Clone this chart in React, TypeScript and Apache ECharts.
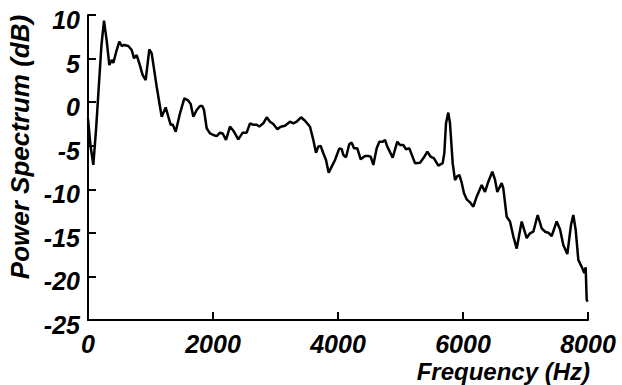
import React, { useEffect, useRef } from "react";
import * as echarts from "echarts";

const frequencies: number[] = [
  0, 40, 85, 130, 170, 215, 256, 300, 341, 379, 405, 459, 501, 539, 576, 645, 699, 736, 779, 821,
  875, 923, 981, 1019, 1099, 1179, 1243, 1285, 1323, 1355, 1403, 1472, 1541, 1595, 1643, 1685,
  1739, 1792, 1829, 1856, 1899, 1952, 2005, 2059, 2112, 2155, 2208, 2272, 2325, 2405, 2475, 2539,
  2592, 2645, 2699, 2741, 2805, 2859, 2912, 2965, 3029, 3083, 3152, 3232, 3285, 3339, 3408, 3472,
  3552, 3605, 3648, 3685, 3723, 3765, 3808, 3851, 3899, 3952, 4021, 4059, 4085, 4128, 4181, 4219,
  4256, 4309, 4363, 4432, 4485, 4523, 4565, 4619, 4661, 4715, 4752, 4789, 4875, 4949, 4992, 5045,
  5088, 5141, 5232, 5312, 5365, 5429, 5483, 5536, 5605, 5675, 5701, 5728, 5765, 5792, 5835, 5872,
  5909, 5941, 5979, 6016, 6059, 6112, 6165, 6219, 6299, 6352, 6405, 6469, 6512, 6549, 6619, 6645,
  6699, 6752, 6805, 6859, 6939, 7019, 7072, 7125, 7195, 7259, 7312, 7365, 7419, 7499, 7552, 7605,
  7669, 7728, 7765, 7803, 7845, 7899, 7941, 7963, 7979, 7995,
];

const powerDb: number[] = [
  -1.9, -5.0, -7.2, -3.0, 1.5, 6.5, 9.35, 7.0, 4.26, 4.84, 4.5, 5.98, 6.94, 6.44, 6.56, 6.44, 5.98,
  5.03, 5.4, 4.45, 3.1, 2.54, 6.06, 5.6, 1.77, -1.67, -0.6, -1.67, -2.6, -2.55, -3.4, -1.28, 0.44,
  0.24, -0.21, -1.67, -0.9, -0.44, -0.44, -0.9, -3.0, -3.58, -3.77, -3.9, -3.5, -3.6, -4.34, -2.8,
  -3.28, -4.27, -3.5, -3.5, -2.43, -2.6, -2.6, -2.8, -2.43, -1.74, -2.24, -2.51, -3.12, -2.82, -2.7,
  -2.24, -2.43, -2.24, -1.74, -2.13, -2.82, -4.34, -5.8, -5.1, -5.03, -5.87, -6.64, -8.1, -7.4,
  -6.64, -5.3, -5.4, -6.07, -6.33, -4.8, -4.65, -5.3, -5.3, -6.56, -6.18, -6.18, -6.26, -7.2, -5.3,
  -4.54, -4.54, -4.34, -5.1, -6.37, -4.54, -4.92, -4.92, -5.4, -5.3, -7.0, -6.95, -6.45, -5.69,
  -6.26, -6.45, -7.29, -7.0, -5.87, -2.43, -1.2, -2.43, -7.0, -8.94, -8.48, -8.36, -9.24, -10.46,
  -11.15, -11.5, -12.0, -10.85, -9.5, -10.3, -9.13, -7.98, -8.9, -10.3, -9.3, -9.9, -13.15, -13.7,
  -15.4, -16.8, -13.7, -15.6, -15.05, -14.87, -12.95, -14.48, -14.87, -14.98, -15.36, -13.7, -14.59,
  -16.4, -17.43, -14.1, -12.95, -14.67, -18.1, -18.9, -19.6, -18.96, -22.7, -22.9,
];

const xTicks: number[] = [0, 2000, 4000, 6000, 8000];
const yTicks: number[] = [-25, -20, -15, -10, -5, 0, 5, 10];
const xTitle = "Frequency (Hz)";
const yTitle = "Power Spectrum (dB)";

const FONT = "'Liberation Sans', Arial, Helvetica, sans-serif";

export default function App() {
  const ref = useRef<HTMLDivElement>(null);
  useEffect(() => {
    document.body.style.margin = "0";
    if (!ref.current) return;
    const chart = echarts.init(ref.current, undefined, { renderer: "svg" });
    const data = frequencies.map((f, i) => [f, powerDb[i]]);
    const labelStyle = {
      fontFamily: FONT,
      fontWeight: "bold" as const,
      fontStyle: "italic" as const,
      fontSize: 25,
      color: "#000",
      formatter: (v: number) => String(v),
    };
    chart.setOption({
      animation: false,
      backgroundColor: "#fff",
      grid: { left: 88, right: 34, top: 15, bottom: 65, containLabel: false, outerBoundsMode: "none" },
      xAxis: {
        type: "value",
        min: xTicks[0],
        max: xTicks[xTicks.length - 1],
        interval: xTicks[1] - xTicks[0],
        axisLine: { show: true, onZero: false, lineStyle: { color: "#000", width: 2 } },
        axisTick: { show: true, inside: true, length: 8, lineStyle: { color: "#000", width: 2 } },
        axisLabel: { ...labelStyle, margin: 11, lineHeight: 25 },
        splitLine: { show: false },
      },
      yAxis: {
        type: "value",
        min: yTicks[0],
        max: yTicks[yTicks.length - 1],
        interval: yTicks[1] - yTicks[0],
        axisLine: { show: true, onZero: false, lineStyle: { color: "#000", width: 2 } },
        axisTick: { show: true, inside: true, length: 8, lineStyle: { color: "#000", width: 2 } },
        axisLabel: { ...labelStyle, margin: 8, verticalAlign: "top", lineHeight: 10 },
        splitLine: { show: false },
      },
      graphic: [
        {
          type: "text",
          right: 32,
          top: 359,
          style: {
            text: xTitle,
            font: `italic bold 24px ${FONT}`,
            fill: "#000",
          },
        },
        {
          type: "text",
          x: 20,
          y: 147,
          rotation: Math.PI / 2,
          style: {
            text: yTitle,
            font: `italic bold 26px ${FONT}`,
            fill: "#000",
            align: "center",
            verticalAlign: "middle",
            textAlign: "center",
            textVerticalAlign: "middle",
          },
        },
      ],
      series: [
        {
          type: "line",
          data,
          showSymbol: false,
          symbol: "none",
          lineStyle: { color: "#000", width: 2.5 },
          itemStyle: { color: "#000" },
          z: 3,
        },
      ],
    });
    return () => chart.dispose();
  }, []);
  return <div ref={ref} style={{ width: 622, height: 385 }} />;
}
